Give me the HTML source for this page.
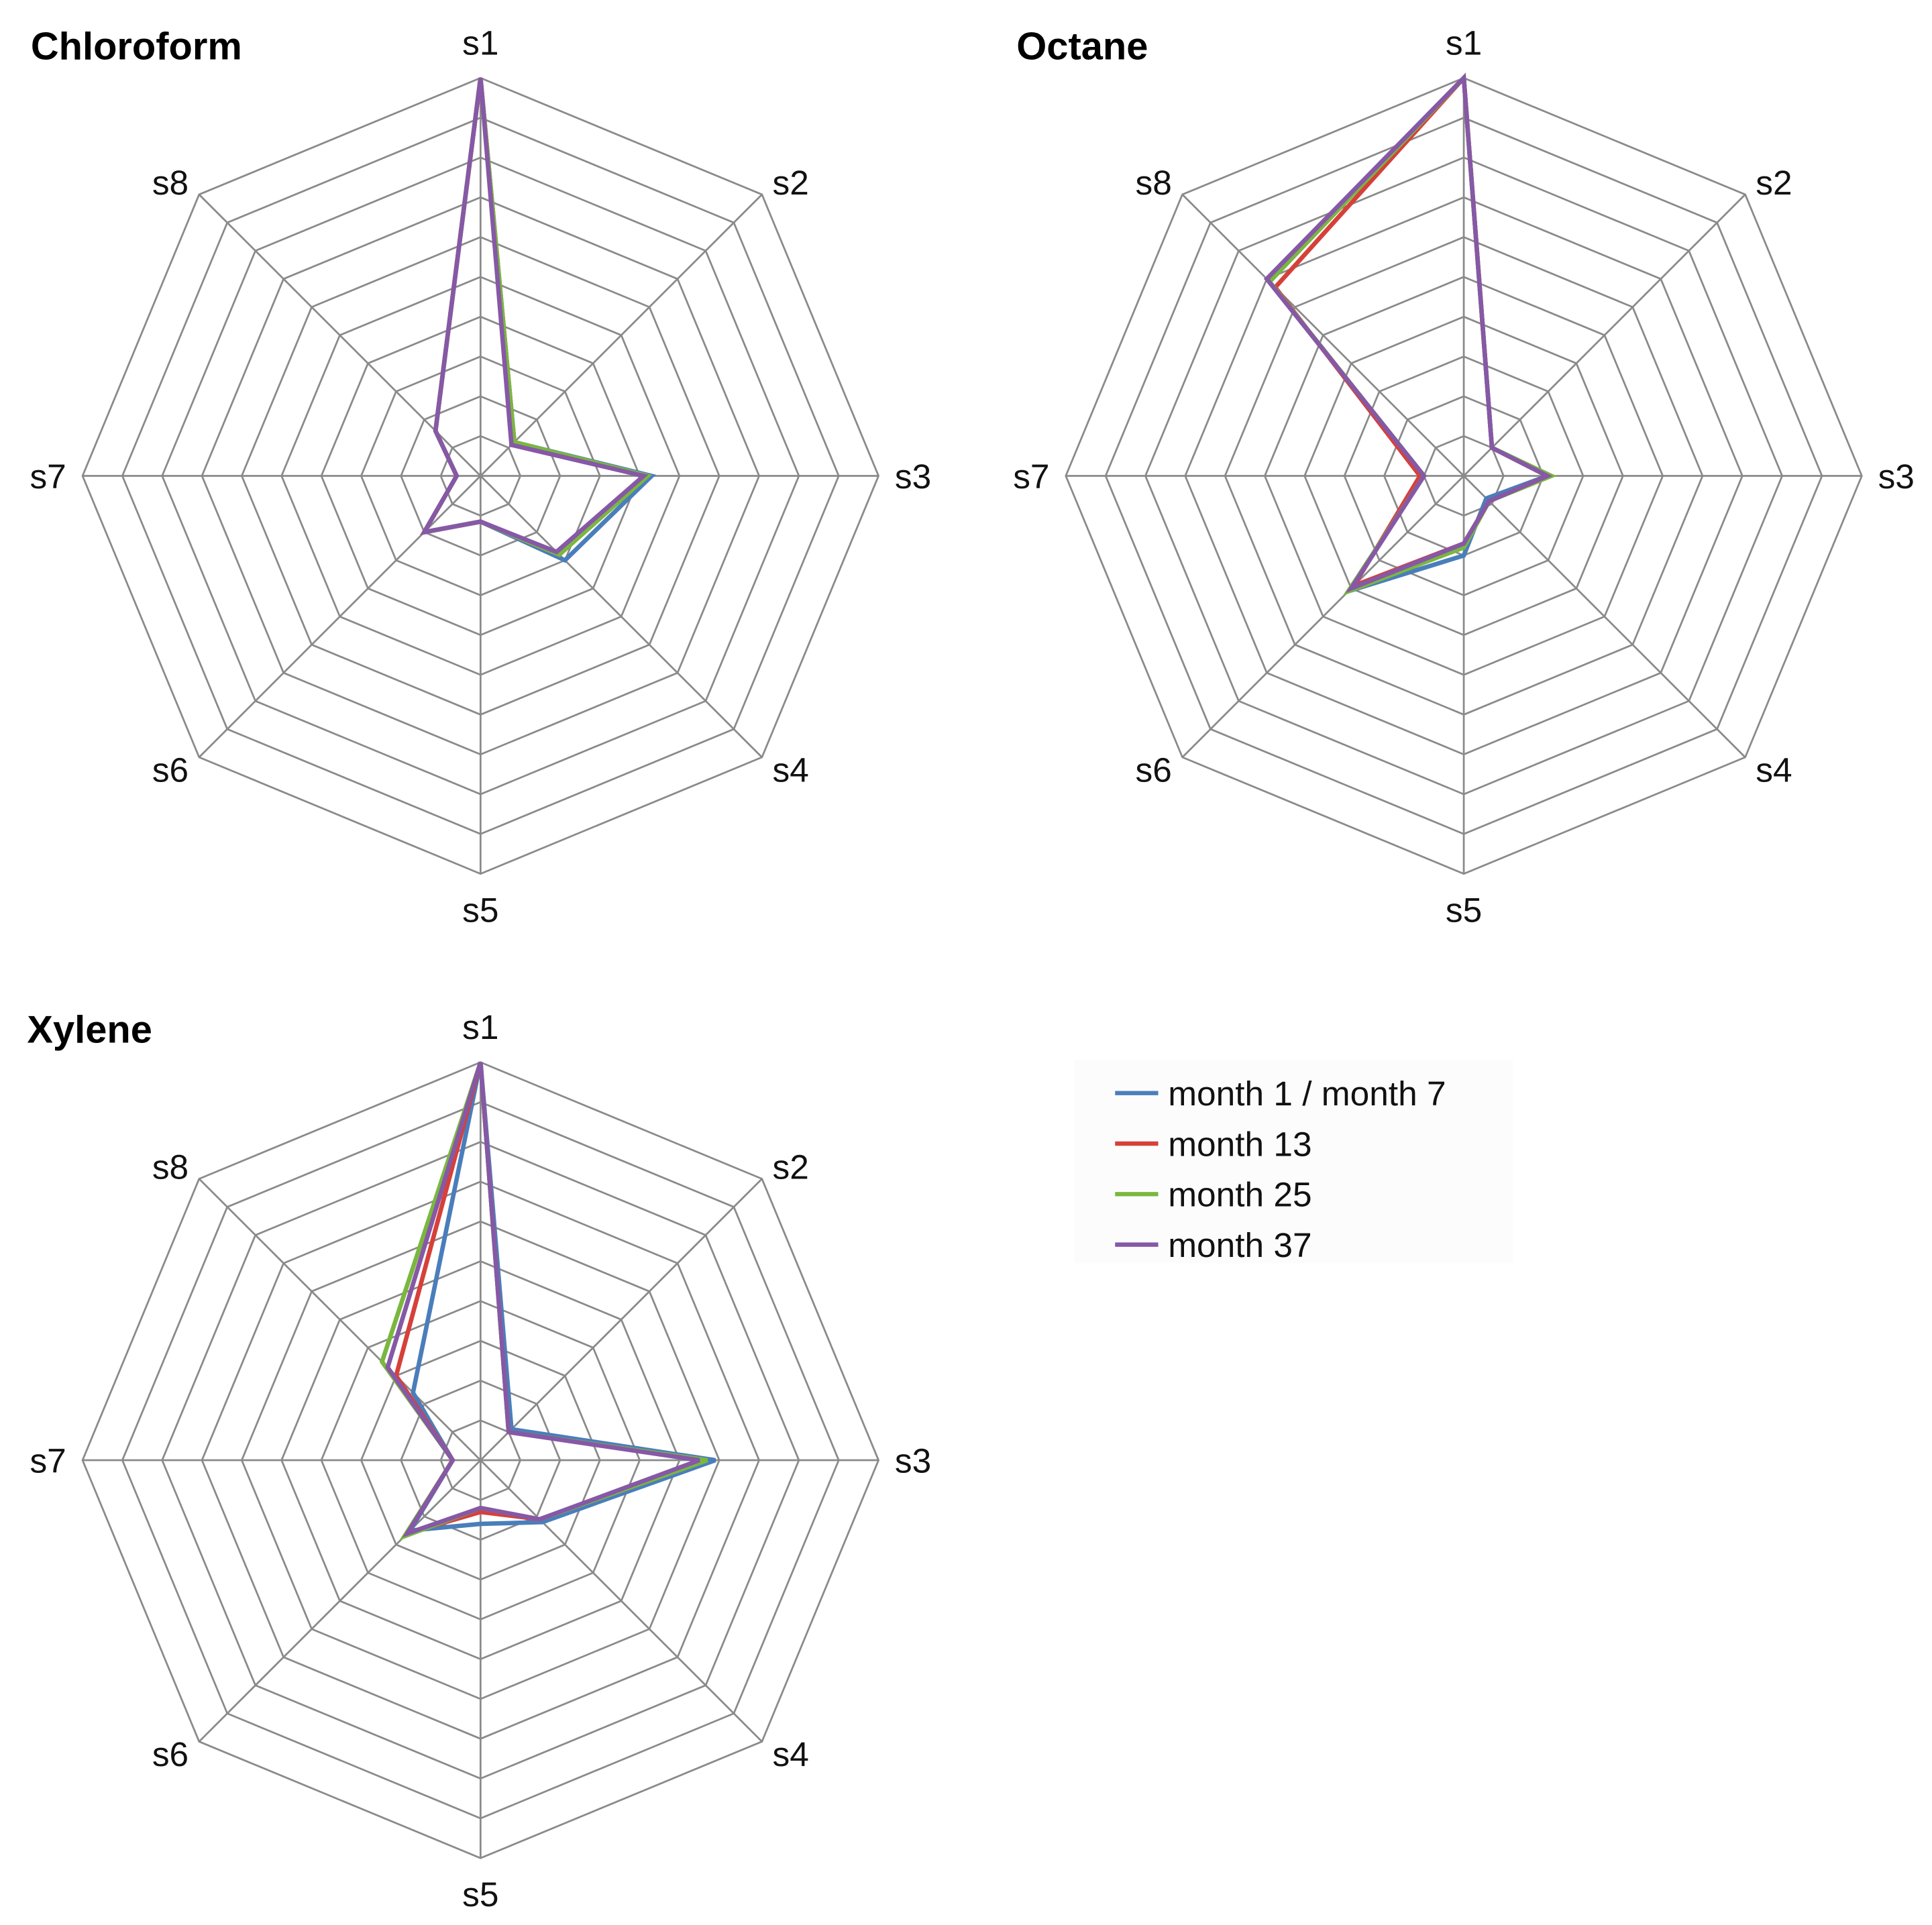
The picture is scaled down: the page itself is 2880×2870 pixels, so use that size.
<!DOCTYPE html>
<html>
<head>
<meta charset="utf-8">
<style>
  html,body{margin:0;padding:0;background:#fff;}
  svg{display:block;}
  text{font-family:"Liberation Sans",sans-serif;}
</style>
</head>
<body>
<svg id="chart" width="2880" height="2870" viewBox="0 0 1568 1562" xmlns="http://www.w3.org/2000/svg"></svg>
<script>
const axes = ["s1","s2","s3","s4","s5","s6","s7","s8"];
const seriesNames = ["month 1 / month 7","month 13","month 25","month 37"];
const seriesColors = ["#4a7ebb","#d6403a","#7ab73f","#8658a6"];
const ringCount = 10;
const maxValue = 1.0;

const chloroformBlue   = [1.0,0.12,0.43,0.30,0.115,0.20,0.06,0.16];
const chloroformRed    = [1.0,0.12,0.41,0.28,0.115,0.20,0.06,0.16];
const chloroformGreen  = [1.0,0.12,0.42,0.28,0.115,0.20,0.06,0.16];
const chloroformPurple = [1.0,0.11,0.41,0.27,0.115,0.20,0.06,0.16];

const octaneBlue   = [1.0,0.10,0.21,0.08,0.20,0.41,0.10,0.70];
const octaneRed    = [1.0,0.10,0.21,0.09,0.17,0.39,0.11,0.67];
const octaneGreen  = [1.0,0.10,0.22,0.09,0.18,0.41,0.10,0.69];
const octanePurple = [1.0,0.10,0.21,0.09,0.17,0.40,0.10,0.70];

const xyleneBlue   = [1.0,0.11,0.59,0.22,0.16,0.25,0.07,0.24];
const xyleneRed    = [1.0,0.10,0.56,0.21,0.13,0.26,0.07,0.30];
const xyleneGreen  = [1.0,0.10,0.57,0.21,0.12,0.27,0.07,0.35];
const xylenePurple = [1.0,0.10,0.55,0.21,0.12,0.26,0.07,0.33];

const panels = [
  {title:"Chloroform", cx:390, cy:386, tx:25, ty:48, data:[chloroformBlue,chloroformRed,chloroformGreen,chloroformPurple]},
  {title:"Octane", cx:1188, cy:386, tx:825, ty:48, data:[octaneBlue,octaneRed,octaneGreen,octanePurple]},
  {title:"Xylene", cx:390, cy:1185, tx:22, ty:846, data:[xyleneBlue,xyleneRed,xyleneGreen,xylenePurple]}
];
const R = 323;
const NS = "http://www.w3.org/2000/svg";
const svg = document.getElementById("chart");
function mk(tag, attrs, parent){
  const e = document.createElementNS(NS, tag);
  for (const k in attrs) e.setAttribute(k, attrs[k]);
  (parent||svg).appendChild(e);
  return e;
}
function pt(cx, cy, i, v){
  const a = -Math.PI/2 + i*2*Math.PI/axes.length;
  const r = v/maxValue*R;
  return [cx + r*Math.cos(a), cy + r*Math.sin(a)];
}
function labelPos(cx, cy, i){
  const a = -Math.PI/2 + i*2*Math.PI/axes.length;
  const c = Math.cos(a), s = Math.sin(a);
  if (i % 2 === 0) return [cx + 351*c, cy + 352*s];
  return [cx + 356*c, cy + 337*s];
}
panels.forEach((p, pi) => {
  const g = mk("g", {});
  
  
  for (let k=1;k<=ringCount;k++){
    const pts = axes.map((_,i)=>pt(p.cx,p.cy,i,k/ringCount*maxValue).join(",")).join(" ");
    const ring = mk("polygon",{points:pts,fill:"none",stroke:"#8a8a8a","stroke-width":1.5},g);
    
    
  }
  axes.forEach((ax,i)=>{
    const e = pt(p.cx,p.cy,i,maxValue);
    const sp = mk("line",{x1:p.cx,y1:p.cy,x2:e[0],y2:e[1],stroke:"#8a8a8a","stroke-width":1.5},g);
    
    
    const lp = labelPos(p.cx,p.cy,i);
    const t = mk("text",{x:lp[0],y:lp[1]+10,"font-size":28,"text-anchor":"middle",fill:"#111"},g);
    t.textContent = ax;
    
    
  });
  p.data.forEach((vals, si)=>{
    const pts = vals.map((v,i)=>pt(p.cx,p.cy,i,v).join(",")).join(" ");
    const pl = mk("polygon",{points:pts,fill:"none",stroke:seriesColors[si],"stroke-width":3.6,"stroke-linejoin":"miter"},g);
    
    
  });
  const tt = mk("text",{x:p.tx,y:p.ty,"font-size":31.5,"font-weight":"bold",fill:"#000"},g);
  tt.textContent = p.title;
  
  
});
const lg = mk("g", {});


mk("rect",{x:872,y:860,width:356,height:165,fill:"#fcfcfc"},lg);
seriesNames.forEach((n,si)=>{
  const y = 887 + si*41;
  const ln = mk("line",{x1:905,y1:y,x2:940,y2:y,stroke:seriesColors[si],"stroke-width":3.5},lg);
  
  
  const t = mk("text",{x:948,y:y+10,"font-size":28,fill:"#111"},lg);
  t.textContent = n;
  
  
});
</script>
</body>
</html>
